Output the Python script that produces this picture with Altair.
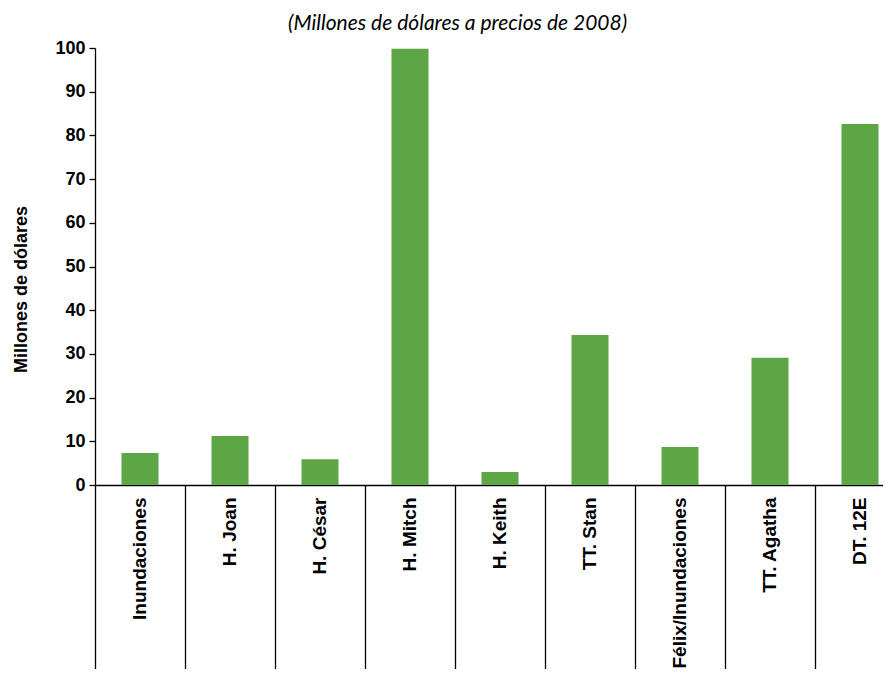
import altair as alt
import pandas as pd

categories = ["Inundaciones", "H. Joan", "H. César", "H. Mitch", "H. Keith",
              "TT. Stan", "Félix/Inundaciones", "TT. Agatha", "DT. 12E"]
values = [7.3, 11.2, 5.9, 99.8, 3.0, 34.3, 8.7, 29.1, 82.6]
y_ticks = [0, 10, 20, 30, 40, 50, 60, 70, 80, 90, 100]

df = pd.DataFrame({"evento": categories, "valor": values})

FONT = "Arial, Liberation Sans, Helvetica, sans-serif"

chart = alt.Chart(df).mark_bar(color="#5DA646", size=37).encode(
    x=alt.X("evento:N", sort=categories, title=None,
            scale=alt.Scale(paddingInner=0, paddingOuter=0),
            axis=alt.Axis(labelAngle=270, bandPosition=0, tickSize=185,
                          labelPadding=-173, labelFontSize=19,
                          labelFont=FONT, labelFontWeight="bold",
                          labelColor="black",
                          tickColor="black", domainColor="black",
                          tickWidth=1.3, domainWidth=1.3, labelBound=False)),
    y=alt.Y("valor:Q", title="Millones de dólares",
            scale=alt.Scale(domain=[0, 100], nice=False),
            axis=alt.Axis(values=y_ticks, tickSize=6, labelFontSize=18,
                          labelFont=FONT, labelFontWeight="bold",
                          labelColor="black", labelPadding=4,
                          tickColor="black", domainColor="black",
                          tickWidth=1.3, domainWidth=1.3, grid=False,
                          titleFont=FONT, titleFontSize=18,
                          titleFontWeight="bold", titleColor="black",
                          titleAngle=270, titleAlign="center",
                          titleBaseline="middle", titleX=-74, titleY=241)),
).properties(
    width=810, height=437,
    title=alt.TitleParams("(Millones de dólares a precios de 2008)",
                          font="Lato", fontSize=21, fontStyle="italic",
                          fontWeight="normal", color="black",
                          anchor="start", dx=276, offset=5),
    autosize=alt.AutoSizeParams(type="none"),
    padding={"left": 87, "top": 40, "right": -22, "bottom": 184},
).configure_view(stroke=None)

chart.save("out.html", embed_options={"renderer": "svg", "actions": False})
